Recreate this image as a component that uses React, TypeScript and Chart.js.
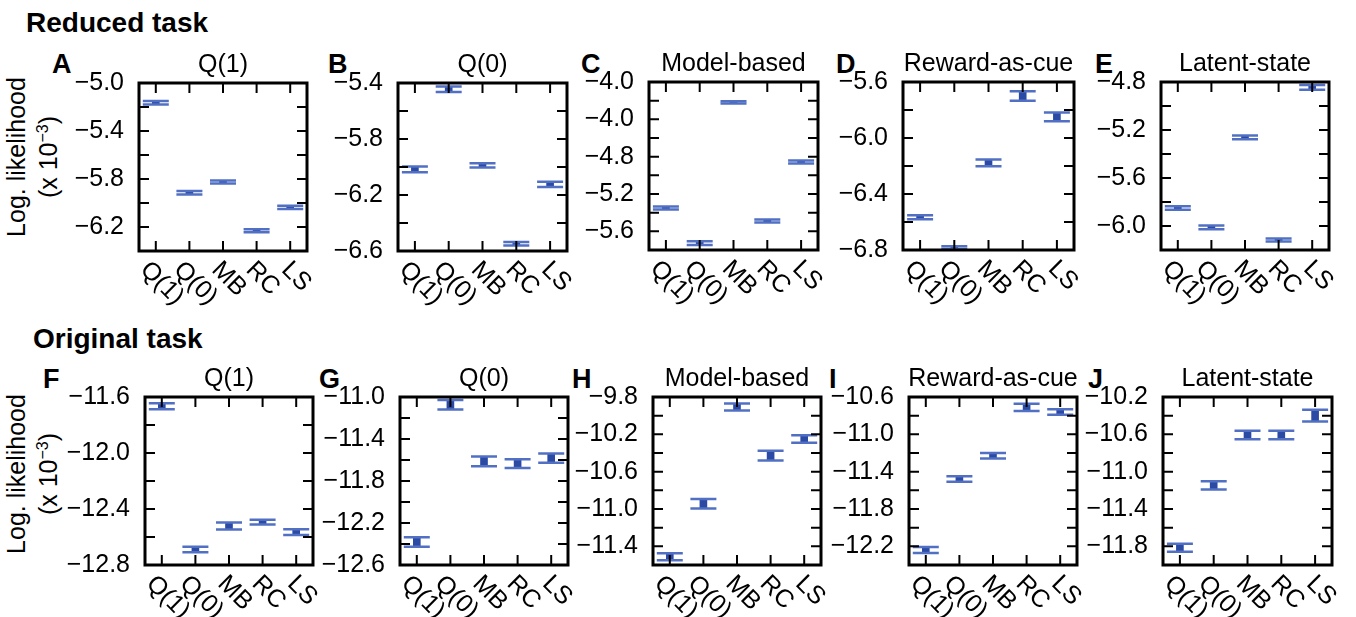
import React, { useEffect, useRef } from "react";
import { Chart, registerables } from "chart.js";

Chart.register(...registerables);

const FONT = '"Liberation Sans", Arial, Helvetica, sans-serif';

// ---------- data ----------
const categories = ["Q(1)", "Q(0)", "MB", "RC", "LS"];
const panelLetters = ["A", "B", "C", "D", "E", "F", "G", "H", "I", "J"];
const panelTitles = ["Q(1)", "Q(0)", "Model-based", "Reward-as-cue", "Latent-state",
  "Q(1)", "Q(0)", "Model-based", "Reward-as-cue", "Latent-state"];
const sectionTitles = ["Reduced task", "Original task"];

// Reduced task (x 10^-3)
const meanA = [-5.164, -5.914, -5.825, -6.231, -6.036];
const errA = [0.015, 0.015, 0.013, 0.012, 0.013];
const meanB = [-6.017, -5.445, -5.988, -6.548, -6.124];
const errB = [0.02, 0.02, 0.015, 0.013, 0.018];
const meanC = [-5.351, -5.727, -4.218, -5.49, -4.856];
const errC = [0.016, 0.02, 0.013, 0.016, 0.016];
const meanD = [-6.566, -6.783, -6.178, -5.7, -5.849];
const errD = [0.014, 0.01, 0.024, 0.034, 0.032];
const meanE = [-5.85, -6.012, -5.262, -6.117, -4.845];
const errE = [0.014, 0.016, 0.016, 0.012, 0.02];
// Original task (x 10^-3)
const meanF = [-11.666, -12.689, -12.522, -12.494, -12.565];
const errF = [0.022, 0.02, 0.025, 0.017, 0.02];
const meanG = [-12.381, -11.073, -11.613, -11.635, -11.581];
const errG = [0.046, 0.045, 0.046, 0.041, 0.044];
const meanH = [-11.512, -10.944, -9.907, -10.429, -10.25];
const errH = [0.037, 0.05, 0.037, 0.052, 0.039];
const meanI = [-12.24, -11.479, -11.229, -10.711, -10.761];
const errI = [0.032, 0.03, 0.029, 0.039, 0.029];
const meanJ = [-11.815, -11.147, -10.607, -10.607, -10.4];
const errJ = [0.043, 0.045, 0.045, 0.046, 0.063];

// y-axis ranges and ticks
const yMin = [-6.4, -6.6, -5.8, -6.8, -6.2, -12.8, -12.6, -11.6, -12.4, -12.0];
const yMax = [-5.0, -5.4, -4.0, -5.6, -4.8, -11.6, -11.0, -9.8, -10.6, -10.2];
const ticksA = [-6.4, -6.2, -6.0, -5.8, -5.6, -5.4, -5.2, -5.0];
const labelsA = ["", "−6.2", "", "−5.8", "", "−5.4", "", "−5.0"];
const ticksB = [-6.6, -6.4, -6.2, -6.0, -5.8, -5.6, -5.4];
const labelsB = ["−6.6", "", "−6.2", "", "−5.8", "", "−5.4"];
const ticksC = [-5.8, -5.6, -5.4, -5.2, -5.0, -4.8, -4.6, -4.4, -4.2, -4.0];
const labelsC = ["", "−5.6", "", "−5.2", "", "−4.8", "", "−4.0", "", "−4.0"];
const ticksD = [-6.8, -6.6, -6.4, -6.2, -6.0, -5.8, -5.6];
const labelsD = ["−6.8", "", "−6.4", "", "−6.0", "", "−5.6"];
const ticksE = [-6.2, -6.0, -5.8, -5.6, -5.4, -5.2, -5.0, -4.8];
const labelsE = ["", "−6.0", "", "−5.6", "", "−5.2", "", "−4.8"];
const ticksF = [-12.8, -12.6, -12.4, -12.2, -12.0, -11.8, -11.6];
const labelsF = ["−12.8", "", "−12.4", "", "−12.0", "", "−11.6"];
const ticksG = [-12.6, -12.4, -12.2, -12.0, -11.8, -11.6, -11.4, -11.2, -11.0];
const labelsG = ["−12.6", "", "−12.2", "", "−11.8", "", "−11.4", "", "−11.0"];
const ticksH = [-11.6, -11.4, -11.2, -11.0, -10.8, -10.6, -10.4, -10.2, -10.0, -9.8];
const labelsH = ["", "−11.4", "", "−11.0", "", "−10.6", "", "−10.2", "", "−9.8"];
const ticksI = [-12.4, -12.2, -12.0, -11.8, -11.6, -11.4, -11.2, -11.0, -10.8, -10.6];
const labelsI = ["", "−12.2", "", "−11.8", "", "−11.4", "", "−11.0", "", "−10.6"];
const ticksJ = [-12.0, -11.8, -11.6, -11.4, -11.2, -11.0, -10.8, -10.6, -10.4, -10.2];
const labelsJ = ["", "−11.8", "", "−11.4", "", "−11.0", "", "−10.6", "", "−10.2"];

const means = [meanA, meanB, meanC, meanD, meanE, meanF, meanG, meanH, meanI, meanJ];
const errs = [errA, errB, errC, errD, errE, errF, errG, errH, errI, errJ];
const tickVals = [ticksA, ticksB, ticksC, ticksD, ticksE, ticksF, ticksG, ticksH, ticksI, ticksJ];
const tickLabels = [labelsA, labelsB, labelsC, labelsD, labelsE, labelsF, labelsG, labelsH, labelsI, labelsJ];

// ---------- layout (pixels) ----------
const boxLeft = [139, 398, 649, 903, 1161, 145, 400, 653, 909, 1163];
const boxTop = [83, 83, 82, 82, 82, 397, 397, 397, 397, 397];
const boxW = [168, 169, 169, 171, 168, 168, 168, 168, 168, 169];
const BOX_H = 168;
const ML = 85, MR = 30, MT = 40, MB = 72;
const letterX = [52, 328, 581, 836, 1095, 43, 319, 572, 829, 1088];
const letterBase = [74, 74, 74, 74, 74, 389, 389, 389, 389, 389];
const sectionX = [26, 33];
const sectionBase = [33, 349];
const ylabelCenterY = [157, 474];

const BAR_COLOR = "#2b4aa3";
const CAP_COLOR = "#5270c3";
const TICK = 10;

function makeDeco(idx: number) {
  return {
    id: "deco" + idx,
    afterDraw(chart: any) {
      const { ctx, chartArea: a, scales } = chart;
      const xs = scales.x, ys = scales.y;
      ctx.save();
      ctx.strokeStyle = "#000";
      ctx.lineWidth = 2;
      ctx.beginPath();
      categories.forEach((_, i) => {
        const x = xs.getPixelForValue(i);
        ctx.moveTo(x, a.top); ctx.lineTo(x, a.top + TICK);
        ctx.moveTo(x, a.bottom); ctx.lineTo(x, a.bottom - TICK);
      });
      tickVals[idx].forEach((v) => {
        const y = ys.getPixelForValue(v);
        ctx.moveTo(a.left, y); ctx.lineTo(a.left + TICK, y);
        ctx.moveTo(a.right, y); ctx.lineTo(a.right - TICK, y);
      });
      ctx.stroke();
      ctx.lineWidth = 3;
      ctx.strokeRect(a.left, a.top, a.right - a.left, a.bottom - a.top);
      ctx.fillStyle = "#000";
      ctx.font = `25px ${FONT}`;
      ctx.textAlign = "center";
      ctx.textBaseline = "middle";
      categories.forEach((c, i) => {
        const x = xs.getPixelForValue(i);
        const w = ctx.measureText(c).width;
        const half = ((w + 22) * Math.SQRT1_2) / 2;
        ctx.save();
        ctx.translate(x + 6, a.bottom + 7 + half);
        ctx.rotate(Math.PI / 4);
        ctx.fillText(c, 0, 0);
        ctx.restore();
      });
      ctx.textBaseline = "alphabetic";
      ctx.fillText(panelTitles[idx], (a.left + a.right) / 2, a.top - 11);
      ctx.restore();
    },
  };
}

function makeConfig(idx: number): any {
  const m = means[idx], e = errs[idx];
  const lows = m.map((v, i) => v - e[i]);
  const highs = m.map((v, i) => v + e[i]);
  const capStyle = {
    type: "line",
    showLine: false,
    pointStyle: "line",
    pointRadius: 13,
    pointHoverRadius: 13,
    pointBorderWidth: 2.5,
    pointBorderColor: CAP_COLOR,
    pointBackgroundColor: CAP_COLOR,
    borderColor: CAP_COLOR,
    order: 0,
  };
  return {
    type: "bar",
    data: {
      labels: categories,
      datasets: [
        { ...capStyle, data: lows },
        { ...capStyle, data: highs },
        {
          type: "bar",
          data: m.map((v, i) => [lows[i], highs[i]]),
          backgroundColor: BAR_COLOR,
          borderWidth: 0,
          barThickness: 7,
          order: 1,
        },
      ],
    },
    options: {
      responsive: false,
      animation: false,
      devicePixelRatio: 1,
      events: [],
      layout: { padding: { left: 0, right: MR, top: MT, bottom: MB } },
      plugins: { legend: { display: false }, tooltip: { enabled: false }, title: { display: false } },
      scales: {
        x: { type: "category", offset: true, display: false },
        y: {
          type: "linear",
          min: yMin[idx],
          max: yMax[idx],
          grid: { display: false },
          border: { display: false },
          afterBuildTicks: (s: any) => {
            s.ticks = tickVals[idx].map((v) => ({ value: v }));
          },
          afterFit: (s: any) => {
            s.width = ML;
          },
          ticks: {
            autoSkip: false,
            color: "#000",
            padding: 7,
            font: { family: FONT, size: 25 },
            callback: (_v: any, i: number) => tickLabels[idx][i],
          },
        },
      },
    },
    plugins: [makeDeco(idx)],
  };
}

export default function App() {
  const refs = useRef<(HTMLCanvasElement | null)[]>([]);
  useEffect(() => {
    const charts = panelLetters.map((_, i) => new Chart(refs.current[i] as HTMLCanvasElement, makeConfig(i)));
    return () => charts.forEach((c) => c.destroy());
  }, []);

  const textBase: React.CSSProperties = {
    position: "absolute",
    fontFamily: FONT,
    color: "#000",
    lineHeight: 1,
    whiteSpace: "nowrap",
  };

  return (
    <div style={{ position: "absolute", left: 0, top: 0, width: 1356, height: 617, background: "#fff", overflow: "hidden" }}>
      {sectionTitles.map((t, i) => (
        <div key={t} style={{ ...textBase, left: sectionX[i], top: sectionBase[i] - 0.8465 * 28, fontSize: 28, fontWeight: 700 }}>
          {t}
        </div>
      ))}
      {panelLetters.map((l, i) => (
        <div key={l} style={{ ...textBase, left: letterX[i], top: letterBase[i] - 0.8465 * 27, fontSize: 27, fontWeight: 700 }}>
          {l}
        </div>
      ))}
      {ylabelCenterY.map((cy, i) => (
        <div
          key={"yl" + i}
          style={{
            ...textBase,
            left: 32,
            top: cy,
            fontSize: 25,
            lineHeight: "32px",
            textAlign: "center",
            transform: "translate(-50%, -50%) rotate(-90deg)",
          }}
        >
          Log. likelihood
          <br />
          (x 10<sup style={{ fontSize: 16, lineHeight: 0 }}>−3</sup>)
        </div>
      ))}
      {panelLetters.map((l, i) => (
        <canvas
          key={"c" + l}
          ref={(el) => {
            refs.current[i] = el;
          }}
          width={ML + boxW[i] + MR}
          height={MT + BOX_H + MB}
          style={{
            position: "absolute",
            left: boxLeft[i] - ML,
            top: boxTop[i] - MT,
            width: ML + boxW[i] + MR,
            height: MT + BOX_H + MB,
          }}
        />
      ))}
    </div>
  );
}
